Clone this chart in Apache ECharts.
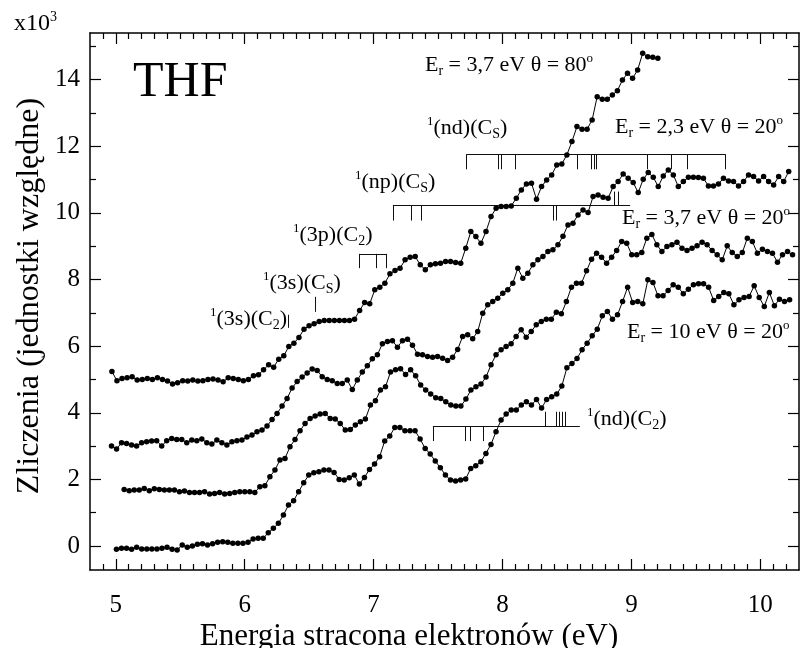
<!DOCTYPE html>
<html><head><meta charset="utf-8">
<script src="https://cdn.jsdelivr.net/npm/echarts@6/dist/echarts.min.js"></script>
<style>html,body{margin:0;padding:0;background:#fff}#c{width:802px;height:648px}</style>
</head><body><div id="c"></div><script>
// ---------- data (x10^3 counts vs energy loss in eV) ----------
const X_MIN = 4.8, X_MAX = 10.3, Y_MIN = -0.72, Y_MAX = 15.4;
const X_TICK_LABELS = [5, 6, 7, 8, 9, 10];
const Y_TICK_LABELS = [0, 2, 4, 6, 8, 10, 12, 14];

// Er = 3,7 eV, theta = 80 deg (top curve)
const S1_RANGE = [4.97, 9.205];
const S1 = [5.24,4.96,5.03,5.05,5.08,4.98,5.00,5.03,5.00,5.05,
 5.00,4.95,4.86,4.90,4.96,4.95,4.98,4.95,4.96,5.00,
 5.01,4.98,4.93,5.05,5.03,5.00,4.96,5.00,5.11,5.14,
 5.29,5.44,5.37,5.61,5.71,5.99,6.09,6.26,6.51,6.61,
 6.67,6.74,6.77,6.77,6.77,6.77,6.77,6.77,6.81,7.07,
 7.31,7.27,7.69,7.77,7.89,8.17,8.27,8.34,8.59,8.67,
 8.69,8.44,8.29,8.44,
 8.47,8.49,8.54,8.54,8.51,8.49,8.94,9.44,9.29,9.09,
 9.44,9.89,10.14,10.19,10.19,10.21,10.44,10.69,10.87,10.89,
 10.41,10.79,10.99,11.14,11.44,
 11.47,11.74,12.14,12.59,12.51,12.51,12.79,13.49,13.41,13.41,
 13.54,13.67,13.99,14.19,14.04,14.29,14.79,14.69,14.67,14.64];

// Er = 2,3 eV, theta = 20 deg
const S2_RANGE = [4.967, 10.22];
const S2 = [3.00,2.91,3.10,3.08,3.03,3.00,3.10,3.13,3.15,3.16,
 3.00,3.16,3.23,3.20,3.20,3.10,3.18,3.16,3.21,3.10,
 3.06,3.18,3.10,3.03,3.13,3.16,3.18,3.27,3.33,3.43,
 3.48,3.60,3.80,3.98,4.20,4.43,4.74,4.94,5.07,5.19,
 5.31,5.27,5.08,
 5.00,4.96,4.88,4.88,4.98,4.70,4.98,5.22,5.41,5.62,
 5.74,6.07,6.14,6.16,5.97,6.16,6.21,6.03,5.76,
 5.74,5.69,5.67,5.69,5.64,5.57,5.67,
 5.90,6.29,6.34,6.22,6.44,6.99,7.24,7.34,7.44,7.59,
 7.69,7.89,8.34,8.04,8.19,8.44,8.59,8.69,8.84,8.89,
 9.04,9.30,
 9.64,9.69,9.94,10.09,10.01,10.49,10.54,10.47,10.44,10.79,
 10.94,11.17,11.04,10.91,10.61,11.01,11.21,11.07,10.79,11.11,
 11.29,11.14,10.79,10.94,11.07,11.07,11.06,11.04,10.81,10.81,
 10.87,11.04,10.96,10.94,10.81,10.94,11.14,11.09,10.96,11.09,
 10.94,10.84,11.09,10.94,11.24];

// Er = 3,7 eV, theta = 20 deg
const S3_RANGE = [5.065, 10.25];
const S3 = [1.70,1.66,1.68,1.68,1.73,1.66,1.72,1.70,1.68,1.68,
 1.68,1.63,1.65,1.61,1.61,1.61,1.63,1.56,1.58,1.61,
 1.56,1.58,1.61,1.63,1.63,1.63,1.61,1.78,1.81,2.08,
 2.28,2.58,2.63,2.98,3.20,3.46,3.68,3.83,3.90,3.96,
 3.98,
 3.83,3.81,3.68,3.48,3.50,3.63,3.73,3.81,4.23,4.36,
 4.68,4.78,5.22,5.29,5.32,5.15,5.29,5.11,4.83,4.68,
 4.56,4.45,4.43,4.33,4.23,4.20,4.20,4.41,4.68,4.78,
 4.86,5.07,
 5.44,5.74,5.89,5.99,6.07,6.29,6.49,6.27,6.44,6.64,
 6.74,6.81,
 6.81,7.02,6.97,7.34,7.77,7.89,7.89,8.26,8.61,8.79,
 8.67,8.49,8.67,8.87,9.14,9.09,8.74,8.74,8.81,9.24,
 9.35,9.04,8.84,8.99,9.04,9.12,8.94,8.87,8.94,9.01,
 9.12,9.04,8.87,8.74,8.59,9.01,8.81,8.69,8.81,9.24,
 9.14,8.79,8.91,8.84,8.79,8.52,8.74,8.84,8.74];

// Er = 10 eV, theta = 20 deg (bottom curve)
const S4_RANGE = [5.005, 10.227];
const S4 = [-0.10,-0.07,-0.07,-0.10,-0.04,-0.09,-0.09,-0.09,-0.09,-0.07,
 -0.04,-0.10,-0.12,0.03,-0.04,0.00,0.05,0.07,0.03,0.07,
 0.11,0.13,0.11,0.08,0.08,0.08,0.11,0.21,0.23,0.23,
 0.40,0.53,0.68,0.93,1.23,1.36,1.63,1.90,2.13,2.20,
 2.23,2.28,
 2.28,2.21,2.00,1.98,2.05,2.13,1.86,2.06,2.30,2.46,
 2.68,3.15,3.30,3.56,3.56,3.46,3.46,3.46,3.21,2.93,
 2.76,2.55,2.35,2.13,1.98,1.95,1.98,2.01,2.33,2.41,
 2.53,2.78,3.05,3.43,3.78,3.96,4.08,4.08,4.23,4.33,
 4.23,4.40,4.14,4.40,
 4.48,4.56,4.80,5.35,5.48,5.63,5.89,6.09,6.31,6.51,
 6.91,7.04,6.81,6.94,7.34,7.77,7.31,7.34,7.27,7.99,
 7.91,7.51,7.51,7.67,7.84,7.77,7.57,7.71,7.84,7.87,
 7.87,7.77,7.37,7.49,7.61,7.57,7.24,7.39,7.46,7.49,
 7.81,7.46,7.19,7.61,7.21,7.41,7.34,7.39];

// transition markers (energies in eV, levels in x10^3)
const ND_CS_SPAN = [7.72, 9.73], ND_CS_Y = [11.76, 11.31];
const ND_CS_DOWN = [7.72, 7.97, 7.99, 8.10, 8.58, 8.69, 8.71, 8.73, 9.12, 9.31, 9.43, 9.73];
const NP_CS_SPAN = [7.15, 8.99], NP_CS_Y = [10.22, 9.77, 10.64];
const NP_CS_DOWN = [7.15, 7.29, 7.37, 8.39, 8.42];
const NP_CS_UP = [8.87, 8.90];
const P3_C2_SPAN = [6.89, 7.10], P3_C2_Y = [8.77, 8.34];
const P3_C2_DOWN = [6.89, 7.02, 7.10];
const S3_CS_TICK = [6.55, 7.03, 7.48];
const S3_C2_TICK = [6.34, 6.55, 6.94];
const ND_C2_SPAN = [7.46, 8.60], ND_C2_Y = [3.60, 3.15, 4.03];
const ND_C2_DOWN = [7.46, 7.71, 7.75, 7.85];
const ND_C2_UP = [8.33, 8.42, 8.44, 8.46, 8.49];

// ---------- build ----------
const FONT = '"Liberation Serif","Times New Roman",Times,serif';
function pairs(vals, range) {
  const n = vals.length, st = (range[1] - range[0]) / (n - 1);
  return vals.map((v, i) => [range[0] + i * st, v]);
}
const segs = [];
function seg(x1, y1, x2, y2) { segs.push({ coords: [[x1, y1], [x2, y2]] }); }
seg(ND_CS_SPAN[0], ND_CS_Y[0], ND_CS_SPAN[1], ND_CS_Y[0]);
ND_CS_DOWN.forEach(x => seg(x, ND_CS_Y[0], x, ND_CS_Y[1]));
seg(NP_CS_SPAN[0], NP_CS_Y[0], NP_CS_SPAN[1], NP_CS_Y[0]);
NP_CS_DOWN.forEach(x => seg(x, NP_CS_Y[0], x, NP_CS_Y[1]));
NP_CS_UP.forEach(x => seg(x, NP_CS_Y[0], x, NP_CS_Y[2]));
seg(P3_C2_SPAN[0], P3_C2_Y[0], P3_C2_SPAN[1], P3_C2_Y[0]);
P3_C2_DOWN.forEach(x => seg(x, P3_C2_Y[0], x, P3_C2_Y[1]));
seg(S3_CS_TICK[0], S3_CS_TICK[1], S3_CS_TICK[0], S3_CS_TICK[2]);
seg(S3_C2_TICK[0], S3_C2_TICK[1], S3_C2_TICK[0], S3_C2_TICK[2]);
seg(ND_C2_SPAN[0], ND_C2_Y[0], ND_C2_SPAN[1], ND_C2_Y[0]);
ND_C2_DOWN.forEach(x => seg(x, ND_C2_Y[0], x, ND_C2_Y[1]));
ND_C2_UP.forEach(x => seg(x, ND_C2_Y[0], x, ND_C2_Y[2]));

// tick positions
const xMinor = [], yMinor = [];
for (let k = 49; k <= 102; k++) { if (k % 10 !== 0) xMinor.push(k / 10); }
for (let k = 1; k <= 15; k += 2) yMinor.push(k);

function mkX(pos, ticks, len, labels, line) {
  return { type: 'value', position: pos, min: X_MIN, max: X_MAX, splitLine: { show: false },
    axisLine: { show: line, onZero: false, lineStyle: { color: '#000', width: 1.5 } },
    axisTick: { show: true, inside: true, length: len, customValues: ticks, lineStyle: { color: '#000', width: 1.2 } },
    axisLabel: labels ? { show: true, customValues: labels, margin: 23, fontSize: 25, fontFamily: FONT, color: '#000' } : { show: false } };
}
function mkY(pos, ticks, len, labels, line) {
  return { type: 'value', position: pos, min: Y_MIN, max: Y_MAX, splitLine: { show: false },
    axisLine: { show: line, onZero: false, lineStyle: { color: '#000', width: 1.5 } },
    axisTick: { show: true, inside: true, length: len, customValues: ticks, lineStyle: { color: '#000', width: 1.2 } },
    axisLabel: labels ? { show: true, customValues: labels, margin: 10, fontSize: 25, fontFamily: FONT, color: '#000' } : { show: false } };
}

function curve(vals, range) {
  return { type: 'line', xAxisIndex: 0, yAxisIndex: 0, data: pairs(vals, range),
    symbol: 'circle', symbolSize: 5.5, showSymbol: true, silent: true, animation: false,
    lineStyle: { color: '#000', width: 1 }, itemStyle: { color: '#000' } };
}

const RICH = {
  m: { fontSize: 22, fontFamily: FONT, color: '#000', lineHeight: 26 },
  sup: { fontSize: 13, fontFamily: FONT, color: '#000', verticalAlign: 'top', lineHeight: 13 },
  sub: { fontSize: 14, fontFamily: FONT, color: '#000', verticalAlign: 'bottom', lineHeight: 16 }
};
function lab(left, top, text) {
  return { type: 'text', left: left, top: top, silent: true, style: { text: text, rich: RICH } };
}

const chart = echarts.init(document.getElementById('c'), null, { renderer: 'canvas' });
chart.setOption({
  animation: false,
  backgroundColor: '#fff',
  grid: { left: 90, right: 3, top: 33, bottom: 78, containLabel: false },
  xAxis: [
    mkX('bottom', X_TICK_LABELS, 11, X_TICK_LABELS, true),
    mkX('bottom', xMinor, 6, null, false),
    mkX('top', X_TICK_LABELS, 11, null, true),
    mkX('top', xMinor, 6, null, false)
  ],
  yAxis: [
    mkY('left', Y_TICK_LABELS, 11, Y_TICK_LABELS, true),
    mkY('left', yMinor, 6, null, false),
    mkY('right', Y_TICK_LABELS, 11, null, true),
    mkY('right', yMinor, 6, null, false)
  ],
  series: [
    curve(S1, S1_RANGE), curve(S2, S2_RANGE), curve(S3, S3_RANGE), curve(S4, S4_RANGE),
    { type: 'lines', coordinateSystem: 'cartesian2d', xAxisIndex: 0, yAxisIndex: 0, data: segs,
      silent: true, animation: false, lineStyle: { color: '#111', width: 1, opacity: 1 } }
  ],
  graphic: [
    { type: 'text', left: 133, top: 58, silent: true, style: { text: 'THF', font: '50px ' + FONT, fill: '#000' } },
    { type: 'text', left: 14, top: 10, silent: true, style: { text: '{m|x10}{sup|3}', rich: {
      m: { fontSize: 24, fontFamily: FONT, color: '#000', lineHeight: 28 },
      sup: { fontSize: 14, fontFamily: FONT, color: '#000', verticalAlign: 'top', lineHeight: 14 } } } },
    lab(425, 52, '{m|E}{sub|r}{m| = 3,7 eV θ = 80}{sup|o}'),
    lab(615, 114, '{m|E}{sub|r}{m| = 2,3 eV θ = 20}{sup|o}'),
    lab(622, 205, '{m|E}{sub|r}{m| = 3,7 eV θ = 20}{sup|o}'),
    lab(627, 319, '{m|E}{sub|r}{m| = 10 eV θ = 20}{sup|o}'),
    lab(427, 115, '{sup|1}{m|(nd)(C}{sub|S}{m|)}'),
    lab(355, 169, '{sup|1}{m|(np)(C}{sub|S}{m|)}'),
    lab(293, 222, '{sup|1}{m|(3p)(C}{sub|2}{m|)}'),
    lab(263, 270, '{sup|1}{m|(3s)(C}{sub|S}{m|)}'),
    lab(210, 306, '{sup|1}{m|(3s)(C}{sub|2}{m|)}'),
    lab(587, 406, '{sup|1}{m|(nd)(C}{sub|2}{m|)}'),
    { type: 'text', x: 409, y: 637, silent: true, style: { text: 'Energia stracona elektronów (eV)',
      font: '31px ' + FONT, fill: '#000', align: 'center', verticalAlign: 'middle' } },
    { type: 'text', x: 30, y: 296, rotation: Math.PI / 2, silent: true, style: { text: 'Zliczenia (jednostki względne)',
      font: '32px ' + FONT, fill: '#000', align: 'center', verticalAlign: 'middle' } }
  ]
});
</script></body></html>
